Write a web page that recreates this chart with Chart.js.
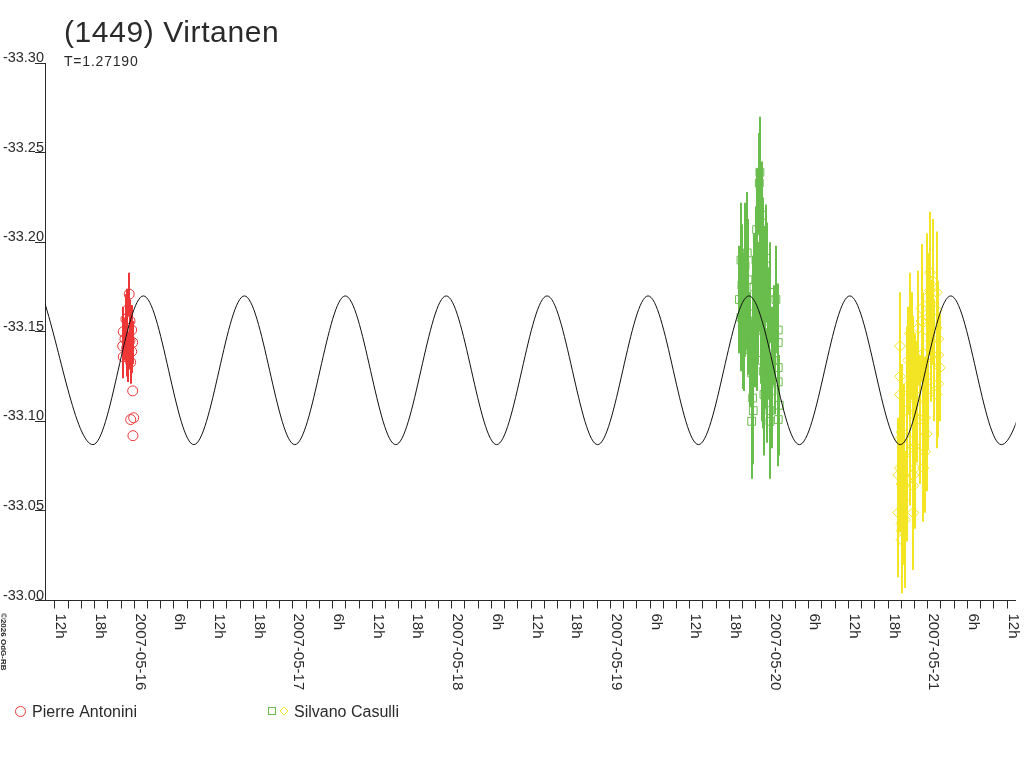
<!DOCTYPE html>
<html>
<head>
<meta charset="utf-8">
<title>(1449) Virtanen</title>
<script src="https://cdn.jsdelivr.net/npm/chart.js@4"></script>
<style>
  html, body { margin: 0; padding: 0; background: #fff; }
  #wrap { width: 1024px; height: 768px; }
</style>
</head>
<body>
<div id="wrap"><canvas id="lc" width="1024" height="768"></canvas></div>
<script>
// hours counted from 2007-05-16 00:00 UT, reduced magnitudes
const titleText = "(1449) Virtanen";
const periodText = "T=1.27190";
const creditText = "©2026 OdG-RB";

const xMinHours = -13.5;
const xMaxHours = 133.3;
const yMinMag = -33.30;
const yMaxMag = -33.00;
const yStep = 0.05;
const xStepHours = 2;

// Pierre Antonini (circles)
const antoniniHours = [-1.75, -1.66, -1.66, -1.41, -1.26, -1.15, -1.06, -0.91, -0.76, -0.65,
  -0.65, -0.54, -0.39, -0.39, -0.24, -0.24, -0.54, -0.09, -0.20];
const antoniniMag = [-33.142, -33.150, -33.136, -33.146, -33.157, -33.141, -33.162, -33.136, -33.171, -33.156,
  -33.145, -33.133, -33.151, -33.139, -33.144, -33.117, -33.101, -33.102, -33.092];
const antoniniErr = [0.012, 0.014, 0.012, 0.012, 0.014, 0.016, 0.012, 0.014, 0.012, 0.012,
  0.016, 0.012, 0.014, 0.012, 0.012, 0, 0, 0, 0];

// Silvano Casulli, first night (squares)
const casulliAHours = [91.52, 91.75, 91.75, 91.90, 92.10, 92.13, 92.20, 92.36, 92.51, 92.70,
  92.81, 93.11, 93.37, 93.37, 93.52, 93.52, 93.61, 93.61, 93.61, 93.61,
  93.72, 93.87, 94.02, 94.12, 94.22, 94.32, 94.52, 94.62, 94.70, 94.78,
  94.88, 94.88, 95.00, 95.12, 95.12, 95.23, 95.38, 95.38, 95.53, 95.64,
  95.64, 95.83, 95.98, 96.14, 96.14, 96.14, 96.44, 96.74, 97.04, 97.39,
  97.39, 97.39, 97.39, 97.54, 97.39, 92.36, 94.17, 95.08, 96.44, 96.89,
  92.81];
const casulliAMag = [-33.168, -33.190, -33.158, -33.176, -33.148, -33.162, -33.145, -33.187, -33.170, -33.194,
  -33.156, -33.140, -33.127, -33.100, -33.141, -33.113, -33.160, -33.146, -33.132, -33.106,
  -33.175, -33.151, -33.190, -33.207, -33.202, -33.168, -33.233, -33.239, -33.184, -33.151,
  -33.215, -33.163, -33.134, -33.195, -33.128, -33.115, -33.179, -33.139, -33.191, -33.183,
  -33.120, -33.156, -33.142, -33.172, -33.106, -33.100, -33.134, -33.148, -33.168, -33.151,
  -33.144, -33.130, -33.122, -33.109, -33.101, -33.168, -33.151, -33.168, -33.117, -33.134,
  -33.179];
const casulliAErr = [0.030, 0.032, 0.030, 0.034, 0.030, 0.032, 0.028, 0.035, 0.030, 0.034,
  0.030, 0.032, 0.030, 0.032, 0.030, 0.034, 0.032, 0.030, 0.035, 0.030,
  0.030, 0.032, 0.030, 0.034, 0.030, 0.032, 0.028, 0.031, 0.034, 0.030,
  0.030, 0.032, 0.034, 0.030, 0.032, 0.034, 0.030, 0.032, 0.030, 0.028,
  0.032, 0.030, 0.030, 0.028, 0.030, 0.032, 0.030, 0.028, 0.030, 0.026,
  0.026, 0.028, 0.026, 0.028, 0.026, 0.032, 0.034, 0.030, 0.032, 0.030,
  0.034];

// Silvano Casulli, second night (diamonds)
const casulliBHours = [115.54, 115.80, 115.80, 115.80, 115.80, 116.05, 116.05, 116.05, 116.05, 116.25,
  116.40, 116.55, 116.81, 116.85, 117.05, 117.31, 117.57, 117.81, 117.81, 117.81,
  117.81, 118.06, 118.06, 118.06, 118.32, 118.56, 118.82, 119.08, 119.32, 119.32,
  119.58, 119.83, 119.83, 119.83, 120.08, 120.08, 120.33, 120.48, 120.83, 120.83,
  120.94, 121.35, 121.35, 121.35, 121.35, 121.59, 121.59, 121.59, 121.84, 115.54,
  116.05, 117.81, 119.58, 118.06, 115.80, 120.33, 120.83, 119.08, 119.83, 117.31,
  119.32, 116.81];
const casulliBMag = [-33.070, -33.142, -33.125, -33.115, -33.074, -33.094, -33.065, -33.043, -33.034, -33.056,
  -33.081, -33.045, -33.106, -33.067, -33.134, -33.089, -33.142, -33.125, -33.070, -33.064,
  -33.049, -33.115, -33.086, -33.074, -33.111, -33.152, -33.101, -33.163, -33.138, -33.074,
  -33.083, -33.169, -33.125, -33.093, -33.158, -33.118, -33.173, -33.145, -33.178, -33.168,
  -33.134, -33.172, -33.162, -33.152, -33.115, -33.146, -33.137, -33.121, -33.130, -33.049,
  -33.039, -33.085, -33.102, -33.103, -33.090, -33.183, -33.175, -33.156, -33.151, -33.149,
  -33.130, -33.119];
const casulliBErr = [0.032, 0.030, 0.034, 0.036, 0.036, 0.038, 0.036, 0.034, 0.030, 0.036,
  0.040, 0.038, 0.036, 0.034, 0.030, 0.036, 0.030, 0.034, 0.036, 0.034,
  0.032, 0.034, 0.036, 0.034, 0.034, 0.032, 0.036, 0.036, 0.034, 0.030,
  0.034, 0.036, 0.036, 0.032, 0.036, 0.034, 0.036, 0.034, 0.035, 0.036,
  0.034, 0.034, 0.032, 0.032, 0.030, 0.032, 0.030, 0.030, 0.030, 0.036,
  0.034, 0.036, 0.034, 0.036, 0.034, 0.034, 0.036, 0.034, 0.036, 0.034,
  0.036, 0.034];

// fitted lightcurve: maxima / minima
const fitHours = [-13.88, -6.25, 1.38, 9.01, 16.65, 24.28, 31.91, 39.54, 47.17, 54.80,
  62.43, 70.07, 77.70, 85.33, 92.96, 100.59, 108.22, 115.85, 123.48, 131.12, 138.75];
const fitMag = [-33.170, -33.087, -33.170, -33.087, -33.170, -33.087, -33.170, -33.087, -33.170, -33.087,
  -33.170, -33.087, -33.170, -33.087, -33.170, -33.087, -33.170, -33.087, -33.170, -33.087, -33.170];

const RED = "#ee3636";
const GREEN = "#69bd4c";
const YELLOW = "#f3e424";
const INK = "#2a2a2a";
const FONT = "'Liberation Sans', Arial, sans-serif";

function pts(hours, mags) {
  return hours.map((h, i) => ({ x: h, y: mags[i] }));
}

function tickText(v) {
  if (Math.abs(v % 6) > 1e-6) return "";
  const hh = ((v % 24) + 24) % 24;
  if (hh === 0) {
    const d = new Date(Date.UTC(2007, 4, 16) + v * 3600e3);
    return d.toISOString().slice(0, 10);
  }
  return hh + "h";
}

const errorBars = {
  id: "errorBars",
  beforeDatasetsDraw(chart) {
    const { ctx, chartArea, scales } = chart;
    ctx.save();
    ctx.beginPath();
    ctx.rect(chartArea.left, chartArea.top, chartArea.right - chartArea.left, chartArea.bottom - chartArea.top);
    ctx.clip();
    chart.data.datasets.forEach(ds => {
      if (!ds.errs) return;
      ctx.strokeStyle = ds.borderColor;
      ctx.lineWidth = 2;
      ds.data.forEach((p, i) => {
        if (!ds.errs[i]) return;
        const x = Math.round(scales.x.getPixelForValue(p.x));
        const y1 = scales.y.getPixelForValue(p.y - ds.errs[i]);
        const y2 = scales.y.getPixelForValue(p.y + ds.errs[i]);
        ctx.beginPath();
        ctx.moveTo(x, y1);
        ctx.lineTo(x, y2);
        ctx.stroke();
      });
    });
    ctx.restore();
  }
};

const decorations = {
  id: "decorations",
  afterDraw(chart) {
    const { ctx, chartArea, scales } = chart;
    ctx.save();
    ctx.fillStyle = INK;

    // title + period
    ctx.textAlign = "left";
    ctx.textBaseline = "alphabetic";
    ctx.font = "30px " + FONT;
    ctx.letterSpacing = "0.6px";
    ctx.fillText(titleText, 64, 42);
    ctx.font = "14px " + FONT;
    ctx.letterSpacing = "0.8px";
    ctx.fillText(periodText, 64, 66);

    // y labels, sitting on their tick marks
    ctx.font = "14.5px " + FONT;
    ctx.letterSpacing = "0px";
    ctx.textAlign = "right";
    scales.y.ticks.forEach(t => {
      const y = scales.y.getPixelForValue(t.value);
      ctx.fillText(t.value.toFixed(2), chartArea.left - 1, y - 1);
    });

    // x labels, turned clockwise
    ctx.font = "15px " + FONT;
    ctx.textAlign = "left";
    scales.x.ticks.forEach(t => {
      const s = tickText(t.value);
      if (!s) return;
      const x = scales.x.getPixelForValue(t.value);
      ctx.save();
      ctx.translate(x + 1.5, chartArea.bottom + 13);
      ctx.rotate(Math.PI / 2);
      ctx.fillText(s, 0, 0);
      ctx.restore();
    });

    // credit
    ctx.save();
    ctx.font = "bold 8px " + FONT;
    ctx.translate(1, 613);
    ctx.rotate(Math.PI / 2);
    ctx.fillText(creditText, 0, 0);
    ctx.restore();

    // legend
    const ly = 711;
    ctx.lineWidth = 1;
    ctx.strokeStyle = RED;
    ctx.beginPath();
    ctx.arc(20.5, ly + 0.5, 5, 0, Math.PI * 2);
    ctx.stroke();
    ctx.strokeStyle = GREEN;
    ctx.strokeRect(268.5, ly - 3.5, 7, 7);
    ctx.strokeStyle = YELLOW;
    ctx.beginPath();
    ctx.moveTo(284, ly - 4);
    ctx.lineTo(288, ly);
    ctx.lineTo(284, ly + 4);
    ctx.lineTo(280, ly);
    ctx.closePath();
    ctx.stroke();
    ctx.font = "16px " + FONT;
    ctx.fillStyle = INK;
    ctx.fillText("Pierre Antonini", 32, ly + 6);
    ctx.fillText("Silvano Casulli", 294, ly + 6);

    ctx.restore();
  }
};

new Chart(document.getElementById("lc"), {
  type: "scatter",
  data: {
    datasets: [
      {
        label: "fit",
        data: pts(fitHours, fitMag),
        showLine: true,
        borderColor: "#111",
        borderWidth: 1,
        pointRadius: 0,
        cubicInterpolationMode: "monotone",
        fill: false,
        order: 0
      },
      {
        label: "Pierre Antonini",
        data: pts(antoniniHours, antoniniMag),
        errs: antoniniErr,
        borderColor: RED,
        backgroundColor: "rgba(0,0,0,0)",
        pointStyle: "circle",
        pointRadius: 5,
        pointBorderWidth: 1,
        order: 1
      },
      {
        label: "Silvano Casulli",
        data: pts(casulliAHours, casulliAMag),
        errs: casulliAErr,
        borderColor: GREEN,
        backgroundColor: "rgba(0,0,0,0)",
        pointStyle: "rect",
        pointRadius: 5.5,
        pointBorderWidth: 1,
        order: 2
      },
      {
        label: "Silvano Casulli",
        data: pts(casulliBHours, casulliBMag),
        errs: casulliBErr,
        borderColor: YELLOW,
        backgroundColor: "rgba(0,0,0,0)",
        pointStyle: "rectRot",
        pointRadius: 5.5,
        pointBorderWidth: 1,
        order: 3
      }
    ]
  },
  options: {
    responsive: false,
    animation: false,
    events: [],
    layout: { padding: { left: 35, top: 63, right: 8.3, bottom: 159.5 } },
    plugins: {
      legend: { display: false },
      title: { display: false },
      tooltip: { enabled: false }
    },
    scales: {
      x: {
        type: "linear",
        min: xMinHours,
        max: xMaxHours,
        ticks: { display: false, stepSize: xStepHours, includeBounds: false },
        grid: { drawOnChartArea: false, drawTicks: true, tickLength: 8, color: INK },
        border: { display: true, color: INK, width: 1 },
        afterFit: s => { s.height = 8; }
      },
      y: {
        type: "linear",
        reverse: true,
        min: yMinMag,
        max: yMaxMag,
        ticks: { display: false, stepSize: yStep },
        grid: { drawOnChartArea: false, drawTicks: true, tickLength: 10, color: INK },
        border: { display: true, color: INK, width: 1 },
        afterFit: s => { s.width = 10; }
      }
    }
  },
  plugins: [errorBars, decorations]
});
</script>
</body>
</html>
